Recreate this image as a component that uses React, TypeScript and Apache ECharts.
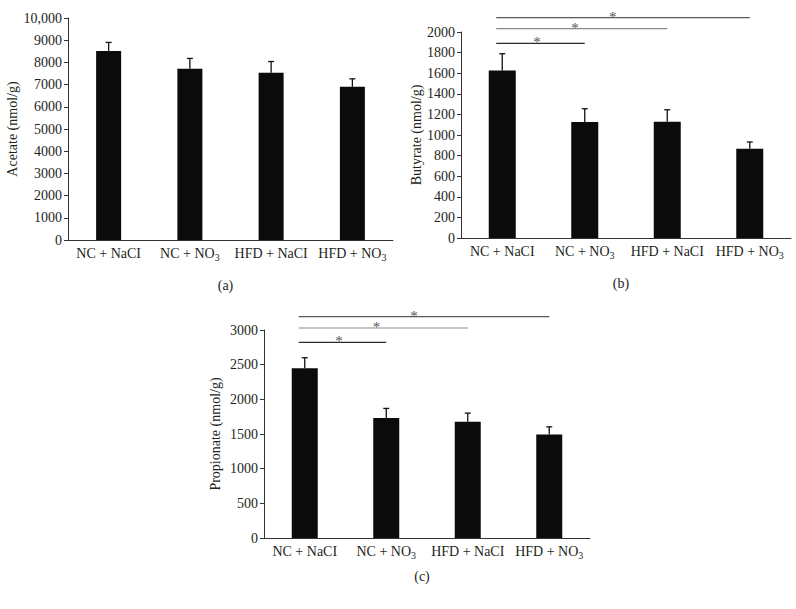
import React, { useEffect, useRef } from 'react';
import * as echarts from 'echarts';

const categories = ['NC + NaCI', 'NC + NO3', 'HFD + NaCI', 'HFD + NO3'];

const acetateMean = [8510, 7710, 7530, 6900];
const acetateErr = [390, 470, 510, 360];

const butyrateMean = [1627, 1126, 1129, 867];
const butyrateErr = [162, 129, 116, 65];

const propionateMean = [2447, 1729, 1676, 1493];
const propionateErr = [153, 140, 125, 110];

// significance brackets: [from category, to category, level (axis units)]
const butyrateSig = [
  [0, 1, 1889],
  [0, 2, 2032],
  [0, 3, 2139],
];
const propionateSig = [
  [0, 1, 2822],
  [0, 2, 3029],
  [0, 3, 3192],
];

const panelLabels = ['(a)', '(b)', '(c)'];
const yNames = ['Acetate (nmol/g)', 'Butyrate (nmol/g)', 'Propionate (nmol/g)'];

const FONT = '"Liberation Serif", "DejaVu Serif", serif';
const TEXT = '#231f20';
const AXIS = '#333';
const sigColors = ['#2a2a2a', '#8a8a8a', '#5a5a5a'];

export default function App() {
  const ref = useRef<HTMLDivElement>(null);

  useEffect(() => {
    if (!ref.current) return;
    const chart = echarts.init(ref.current, undefined, { renderer: 'svg' });

    const grids = [
      { left: 68, top: 18, width: 325, height: 222 },
      { left: 461, top: 32, width: 330, height: 206 },
      { left: 264, top: 330, width: 326, height: 208 },
    ];
    const yRanges = [
      { min: 0, max: 10000, interval: 1000 },
      { min: 0, max: 2000, interval: 200 },
      { min: 0, max: 3000, interval: 500 },
    ];
    const nameGaps = [45, 38, 42];
    const labelOffsets = [45, 45, 38];
    const means = [acetateMean, butyrateMean, propionateMean];
    const errs = [acetateErr, butyrateErr, propionateErr];
    const sigs = [null, butyrateSig, propionateSig];
    const barWidths = [25, 27, 26];

    const xAxis = grids.map((_, k) => ({
      type: 'category',
      gridIndex: k,
      data: categories,
      axisLine: { lineStyle: { color: AXIS, width: 1 } },
      axisTick: { show: false },
      axisLabel: {
        interval: 0,
        hideOverlap: false,
        margin: 5,
        color: TEXT,
        fontFamily: FONT,
        fontSize: 14,
        lineHeight: 17,
        formatter: (v: string) => v.replace('NO3', 'NO{sub|3}'),
        rich: {
          sub: { fontSize: 10, fontFamily: FONT, color: TEXT, verticalAlign: 'bottom', lineHeight: 10 },
        },
      },
    }));

    const yAxis = grids.map((_, k) => ({
      type: 'value',
      gridIndex: k,
      ...yRanges[k],
      name: yNames[k],
      nameLocation: 'middle',
      nameGap: nameGaps[k],
      nameRotate: 90,
      nameTextStyle: { color: TEXT, fontFamily: FONT, fontSize: 14 },
      axisLine: { show: true, lineStyle: { color: AXIS, width: 1 } },
      axisTick: { show: true, length: 4, lineStyle: { color: AXIS } },
      splitLine: { show: false },
      axisLabel: {
        margin: 6,
        color: TEXT,
        fontFamily: FONT,
        fontSize: 14,
        formatter: (v: number) => (v >= 10000 ? v.toLocaleString('en-US') : String(v)),
      },
    }));

    const series: any[] = [];
    grids.forEach((_, k) => {
      series.push({
        type: 'bar',
        xAxisIndex: k,
        yAxisIndex: k,
        data: means[k],
        barWidth: barWidths[k],
        itemStyle: { color: '#0b0b0b' },
        silent: true,
      });
      series.push({
        type: 'custom',
        xAxisIndex: k,
        yAxisIndex: k,
        clip: false,
        silent: true,
        encode: { x: 0, y: 1 },
        data: means[k].map((m, i) => [i, m, errs[k][i]]),
        renderItem: (params: any, api: any) => {
          const i = api.value(0);
          const m = api.value(1);
          const e = api.value(2);
          const b = api.coord([i, m]);
          const t = api.coord([i, m + e]);
          const st = { stroke: '#111', lineWidth: 1.3 };
          return {
            type: 'group',
            children: [
              { type: 'line', shape: { x1: b[0], y1: b[1], x2: t[0], y2: t[1] }, style: st },
              { type: 'line', shape: { x1: t[0] - 3, y1: t[1], x2: t[0] + 3, y2: t[1] }, style: st },
            ],
          };
        },
      });
      const sg = sigs[k];
      if (sg) {
        series.push({
          type: 'custom',
          xAxisIndex: k,
          yAxisIndex: k,
          clip: false,
          silent: true,
          encode: { x: 0, y: 2 },
          data: sg,
          renderItem: (params: any, api: any) => {
            const i = api.value(0);
            const j = api.value(1);
            const lvl = api.value(2);
            const p1 = api.coord([i, lvl]);
            const p2 = api.coord([j, lvl]);
            const x1 = p1[0] - 6;
            const x2 = p2[0];
            const c = sigColors[params.dataIndex % sigColors.length];
            return {
              type: 'group',
              children: [
                { type: 'line', shape: { x1, y1: p1[1], x2, y2: p1[1] }, style: { stroke: c, lineWidth: 1.2 } },
                {
                  type: 'text',
                  x: x1 + 0.46 * (x2 - x1),
                  y: p1[1] - 1,
                  style: {
                    text: '*',
                    fill: '#555',
                    font: `15px ${FONT}`,
                    align: 'center',
                    verticalAlign: 'middle',
                  },
                },
              ],
            };
          },
        });
      }
    });

    const graphic = grids.map((g, k) => ({
      type: 'text',
      x: g.left + g.width / 2 - 5,
      y: g.top + g.height + labelOffsets[k],
      style: {
        text: panelLabels[k],
        fill: TEXT,
        font: `14px ${FONT}`,
        align: 'center',
        verticalAlign: 'middle',
      },
    }));

    chart.setOption({
      animation: false,
      backgroundColor: '#ffffff',
      grid: grids.map((g) => ({ ...g, containLabel: false, outerBoundsMode: 'none' })),
      xAxis,
      yAxis,
      series,
      graphic,
    });

    return () => chart.dispose();
  }, []);

  return (
    <div
      ref={ref}
      style={{ position: 'fixed', left: 0, top: 0, width: 796, height: 609, background: '#fff' }}
    />
  );
}
